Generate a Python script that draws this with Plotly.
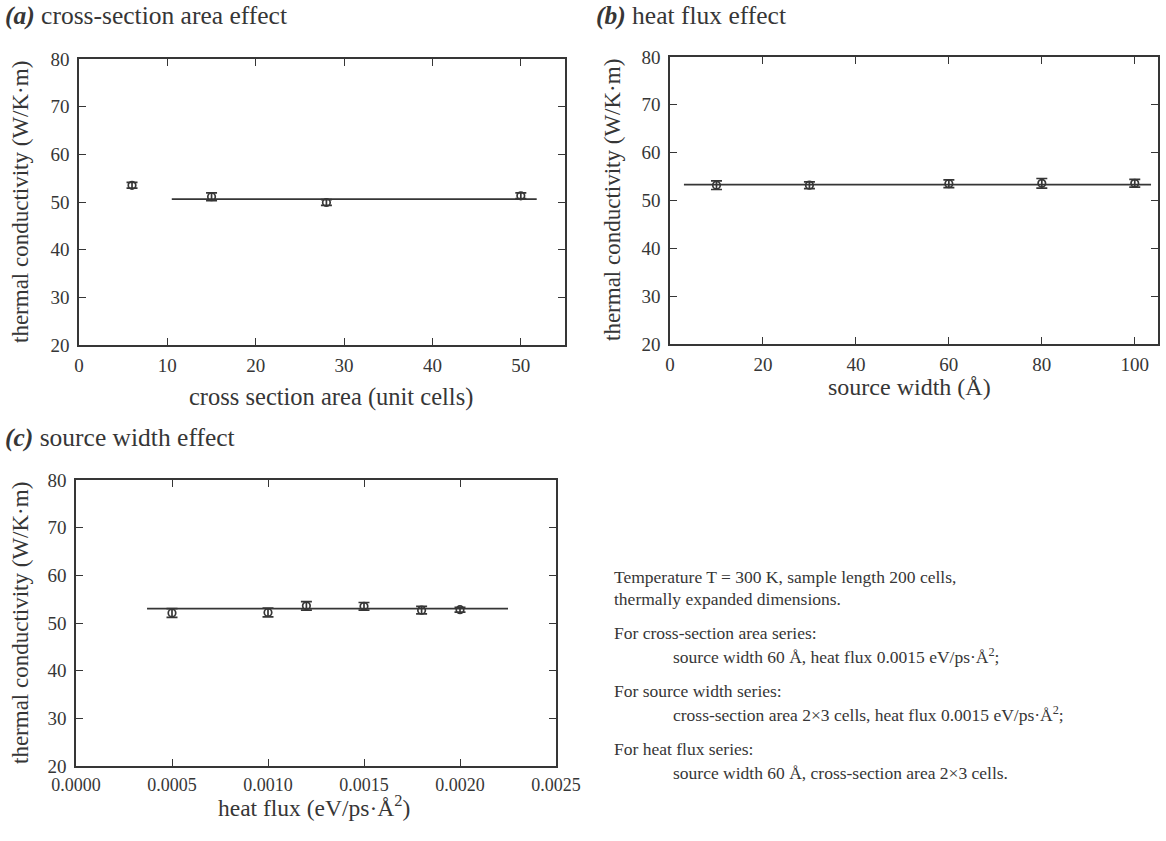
import plotly.graph_objects as go

# ---- data ----
area_x = [6, 15, 28, 50]
area_k = [53.5, 51.1, 49.9, 51.3]
area_err = [0.6, 0.8, 0.6, 0.6]
area_fit_x = [10.5, 51.8]
area_fit_k = [50.6, 50.6]

width_x = [10, 30, 60, 80, 100]
width_k = [53.2, 53.2, 53.5, 53.6, 53.6]
width_err = [0.9, 0.7, 0.8, 1.0, 0.8]
width_fit_x = [3, 103.5]
width_fit_k = [53.3, 53.3]

flux_x = [0.0005, 0.0010, 0.0012, 0.0015, 0.0018, 0.0020]
flux_k = [52.1, 52.2, 53.6, 53.5, 52.7, 52.8]
flux_err = [0.9, 0.9, 0.9, 0.8, 0.8, 0.5]
flux_fit_x = [0.00037, 0.00225]
flux_fit_k = [53.0, 53.0]

y_ticks = [20, 30, 40, 50, 60, 70, 80]
area_ticks = [0, 10, 20, 30, 40, 50]
width_ticks = [0, 20, 40, 60, 80, 100]
flux_ticks = [0.0, 0.0005, 0.0010, 0.0015, 0.0020, 0.0025]
flux_tick_text = ["0.0000", "0.0005", "0.0010", "0.0015", "0.0020", "0.0025"]

FONT = "Liberation Serif, Times New Roman, serif"
INK = "#363636"
W, H = 1166, 841

fig = go.Figure()


def add_panel(xs, ys, errs, fx, fy, xa, ya):
    fig.add_trace(go.Scatter(
        x=fx, y=fy, mode="lines", line=dict(color=INK, width=1.7),
        xaxis=xa, yaxis=ya, showlegend=False, hoverinfo="skip"))
    fig.add_trace(go.Scatter(
        x=xs, y=ys, mode="markers",
        marker=dict(symbol="circle-open", size=7.5, color=INK, line=dict(width=1.7)),
        error_y=dict(type="data", array=errs, visible=True, color=INK, thickness=1.7, width=5.5),
        xaxis=xa, yaxis=ya, showlegend=False))


add_panel(area_x, area_k, area_err, area_fit_x, area_fit_k, "x", "y")
add_panel(width_x, width_k, width_err, width_fit_x, width_fit_k, "x2", "y2")
add_panel(flux_x, flux_k, flux_err, flux_fit_x, flux_fit_k, "x3", "y3")


def ax(**kw):
    d = dict(
        showline=True, linecolor=INK, linewidth=1.6, mirror="ticks",
        ticks="inside", ticklen=7, tickwidth=1.4, tickcolor=INK,
        showgrid=False, zeroline=False, automargin=False,
        tickfont=dict(family=FONT, size=19, color=INK),
    )
    d.update(kw)
    return d


def px_dom_x(a, b):
    return [a / W, b / W]


def px_dom_y(top, bottom):
    return [1 - bottom / H, 1 - top / H]


fig.update_layout(
    width=W, height=H,
    margin=dict(l=0, r=0, t=0, b=0),
    paper_bgcolor="white", plot_bgcolor="white",
    font=dict(family=FONT, color=INK),
    xaxis=ax(domain=px_dom_x(79, 565), anchor="y", range=[0, 55], tickvals=area_ticks, ticklabelstandoff=2),
    yaxis=ax(domain=px_dom_y(59, 345), anchor="x", range=[20, 80], tickvals=y_ticks, ticklabelstandoff=4),
    xaxis2=ax(domain=px_dom_x(670, 1158), anchor="y2", range=[0, 105], tickvals=width_ticks, ticklabelstandoff=2),
    yaxis2=ax(domain=px_dom_y(57, 344), anchor="x2", range=[20, 80], tickvals=y_ticks, ticklabelstandoff=4),
    xaxis3=ax(domain=px_dom_x(76, 556), anchor="y3", range=[0, 0.0025], tickvals=flux_ticks,
              ticktext=flux_tick_text, ticklabelstandoff=2, tickfont=dict(family=FONT, size=18, color=INK)),
    yaxis3=ax(domain=px_dom_y(480, 766), anchor="x3", range=[20, 80], tickvals=y_ticks, ticklabelstandoff=4),
)


def text_at(px, py, text, size, xanchor="center", angle=0):
    fig.add_annotation(xref="paper", yref="paper", x=px / W, y=1 - py / H,
                       xanchor=xanchor, yanchor="middle", showarrow=False,
                       text=text, textangle=angle,
                       font=dict(family=FONT, size=size, color=INK))


# panel titles
text_at(3, 16, "<b><i>(a)</i></b> cross-section area effect", 25.5, "left")
text_at(594, 16, "<b><i>(b)</i></b> heat flux effect", 25.5, "left")
text_at(3, 437, "<b><i>(c)</i></b> source width effect", 25.5, "left")

# axis titles
text_at(331, 397, "cross section area (unit cells)", 24.5)
text_at(909, 387, "source width (Å)", 24)
text_at(314, 806, "heat flux (eV/ps·Å<sup>2</sup>)", 23.5)
text_at(20, 202, "thermal conductivity (W/K·m)", 23, angle=-90)
text_at(612, 200, "thermal conductivity (W/K·m)", 23, angle=-90)
text_at(20, 623, "thermal conductivity (W/K·m)", 23, angle=-90)

notes = [
    (612, 577, "Temperature T = 300 K, sample length 200 cells,"),
    (612, 599, "thermally expanded dimensions."),
    (612, 633, "For cross-section area series:"),
    (671, 656, "source width 60 Å, heat flux 0.0015 eV/ps·Å<sup>2</sup>;"),
    (612, 691, "For source width series:"),
    (671, 714, "cross-section area 2×3 cells, heat flux 0.0015 eV/ps·Å<sup>2</sup>;"),
    (612, 749, "For heat flux series:"),
    (671, 773, "source width 60 Å, cross-section area 2×3 cells."),
]
for px, py, t in notes:
    text_at(px, py, t, 17.5, "left")

fig.write_html("out.html", config={"displayModeBar": False},
               post_script="document.body.style.margin='0px';")
